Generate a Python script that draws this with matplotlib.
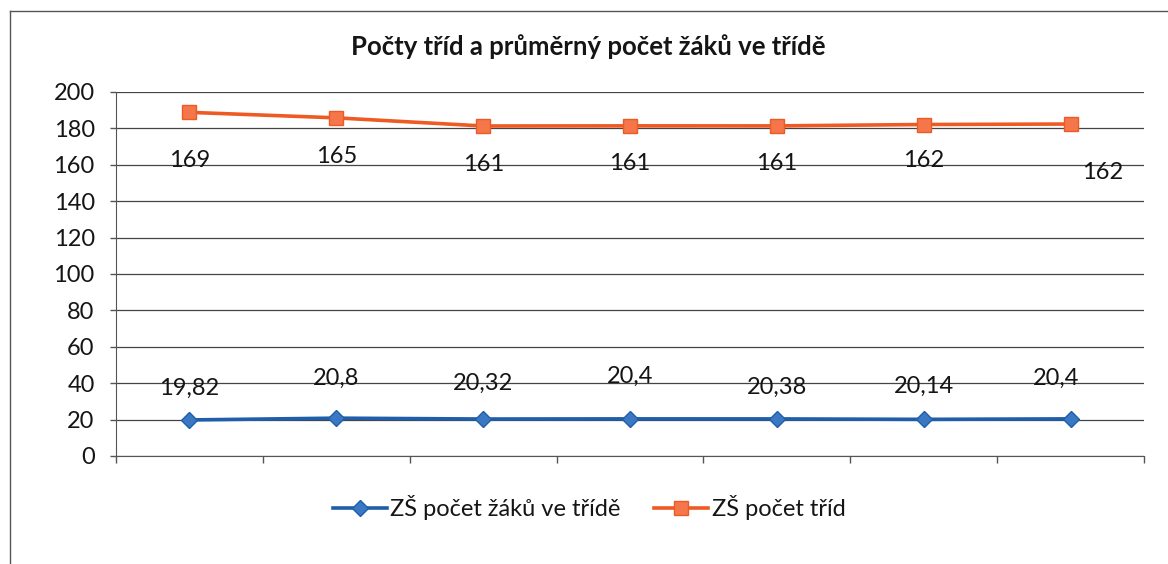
import matplotlib
matplotlib.use("Agg")
import matplotlib.pyplot as plt
from matplotlib.lines import Line2D
import numpy as np

plt.rcParams['font.family'] = ['Lato', 'DejaVu Sans']

# ---- data ----
categories = ["1", "2", "3", "4", "5", "6", "7"]
zaku_ve_tride = [19.82, 20.8, 20.32, 20.4, 20.38, 20.14, 20.4]   # ZŠ počet žáků ve třídě
pocet_trid = [169, 165, 161, 161, 161, 162, 162]                 # ZŠ počet tříd (stacked line)
y_ticks = [0, 20, 40, 60, 80, 100, 120, 140, 160, 180, 200]
title = "Počty tříd a průměrný počet žáků ve třídě"
series_names = ["ZŠ počet žáků ve třídě", "ZŠ počet tříd"]

# label offsets in pixels (style only)
blue_off = [(0, 32), (0, 40), (0, 36), (0, 43), (0, 32), (0, 33), (-15, 41)]
orange_off = [(0, -48), (0, -39), (0, -39), (0, -38), (0, -38), (0, -36), (32, -48)]

blue = "#1f5eab"
orange = "#ee5a24"
orange_fill = "#f4764a"
txt = "#151515"

fig = plt.figure(figsize=(11.68, 5.64), dpi=100)
ax = fig.add_axes([116/1168, 1 - 456/564, (1144-116)/1168, (456-92)/564])

x = np.arange(len(categories))
stacked = np.array(zaku_ve_tride) + np.array(pocet_trid)

ax.plot(x, zaku_ve_tride, color=blue, lw=2.6, marker="D", ms=8,
        mfc="#3b78c4", mec=blue, zorder=3, label=series_names[0])
ax.plot(x, stacked, color=orange, lw=2.6, marker="s", ms=9.5,
        mfc=orange_fill, mec=orange, zorder=3, label=series_names[1])

for i, v in enumerate(zaku_ve_tride):
    ax.annotate(f"{v:g}".replace(".", ","), (x[i], v), xytext=blue_off[i],
                textcoords="offset pixels", ha="center", va="center",
                fontsize=17, color=txt, zorder=4)
for i, v in enumerate(pocet_trid):
    ax.annotate(f"{v:g}", (x[i], stacked[i]), xytext=orange_off[i],
                textcoords="offset pixels", ha="center", va="center",
                fontsize=17, color=txt, zorder=4)

ax.set_xlim(-0.5, len(categories) - 0.5)
ax.set_ylim(0, 200)
ax.set_yticks(y_ticks)
ax.set_yticklabels([str(t) for t in y_ticks], fontsize=17, color=txt)
ax.set_xticks(np.arange(-0.5, len(categories), 1.0))
ax.set_xticklabels([])
ax.tick_params(axis="y", length=4.3, width=1, color="#555555", pad=11)
ax.tick_params(axis="x", length=5, width=1, color="#555555")
ax.yaxis.grid(True, color="#444444", lw=0.9)
ax.set_axisbelow(True)
for s in ["top", "right"]:
    ax.spines[s].set_visible(False)
ax.spines["left"].set_color("#555555")
ax.spines["bottom"].set_color("#555555")

fig.text(588/1168, 1 - 47/564, title, ha="center", va="center",
         fontsize=18.5, fontweight="bold", color=txt)

leg = fig.legend(loc="center", bbox_to_anchor=(589/1168, 1 - 508/564), ncol=2,
                 frameon=False, fontsize=17, handlelength=2.3, columnspacing=1.4,
                 handletextpad=0.15)
for t in leg.get_texts():
    t.set_color(txt)

# outer chart frame (scanned page, only top and left edges visible)
fig.add_artist(Line2D([10/1168, 1], [1 - 11/564, 1 - 11/564], transform=fig.transFigure,
                      color="#555555", lw=1))
fig.add_artist(Line2D([10/1168, 10/1168], [0, 1 - 11/564], transform=fig.transFigure,
                      color="#555555", lw=1))

fig.savefig("out.png", dpi=100)
